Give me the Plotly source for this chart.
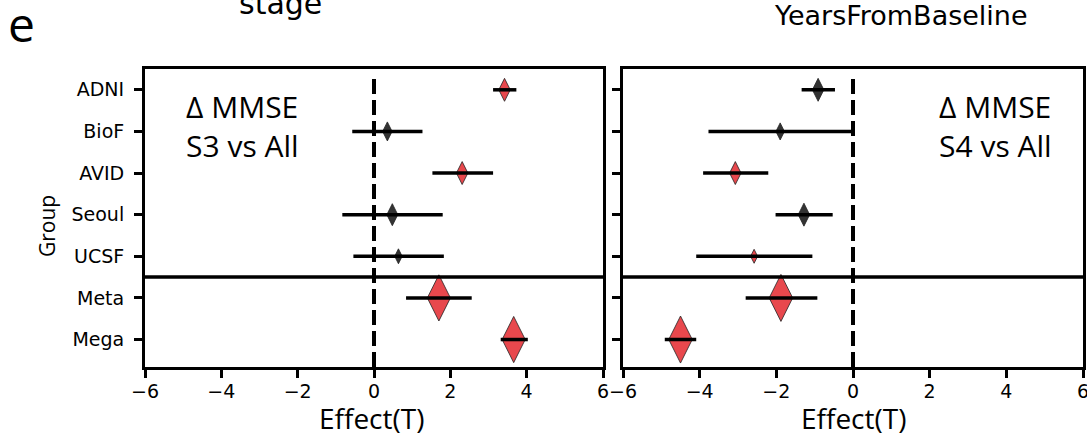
import plotly.graph_objects as go

W, H = 1087, 434

groups = ["ADNI", "BioF", "AVID", "Seoul", "UCSF", "Meta", "Mega"]

# Panel 1: stage (S3 vs All)
s3_effect = [3.42, 0.35, 2.31, 0.48, 0.64, 1.70, 3.66]
s3_lo = [3.12, -0.57, 1.53, -0.83, -0.54, 0.84, 3.32]
s3_hi = [3.73, 1.27, 3.12, 1.80, 1.83, 2.56, 4.03]
s3_sig = [True, False, True, False, False, True, True]
s3_weight = [16.4, 13.6, 16.4, 15.7, 10.7, 33.0, 33.0]

# Panel 2: YearsFromBaseline (S4 vs All)
s4_effect = [-0.91, -1.90, -3.07, -1.28, -2.58, -1.88, -4.50]
s4_lo = [-1.34, -3.77, -3.91, -2.02, -4.09, -2.80, -4.91]
s4_hi = [-0.47, 0.00, -2.21, -0.53, -1.06, -0.93, -4.09]
s4_sig = [False, False, True, False, True, True, True]
s4_weight = [16.4, 12.2, 16.4, 16.4, 10.0, 33.6, 33.6]

xticks = [-6, -4, -2, 0, 2, 4, 6]

RED = "#E8484D"
DARK = "#333333"
TICKFONT = dict(family="DejaVu Sans", size=19, color="black")
TEXTFONT = "Open Sans"


def px(x):
    return x / W


def py(y):
    return 1 - y / H


fig = go.Figure()

panels = [
    (s3_effect, s3_lo, s3_hi, s3_sig, s3_weight, "x", "y"),
    (s4_effect, s4_lo, s4_hi, s4_sig, s4_weight, "x2", "y2"),
]
ypos = list(range(len(groups)))

for eff, lo, hi, sig, wt, xa, ya in panels:
    fig.add_trace(go.Scatter(
        x=eff, y=ypos, mode="markers", xaxis=xa, yaxis=ya,
        marker=dict(symbol="diamond-tall", size=wt, opacity=1,
                    color=[RED if s else DARK for s in sig],
                    line=dict(color="#222222", width=0.8)),
        showlegend=False, hoverinfo="skip"))
    lx, ly = [], []
    for i in range(len(groups)):
        lx += [lo[i], hi[i], None]
        ly += [ypos[i], ypos[i], None]
    fig.add_trace(go.Scatter(
        x=lx, y=ly, mode="lines", xaxis=xa, yaxis=ya,
        line=dict(color="black", width=3.5),
        showlegend=False, hoverinfo="skip"))

xd1 = [px(145), px(603)]
xd2 = [px(623), px(1083)]
yd = [py(367), py(69)]
yrange = [6.66, -0.5]

axis_common = dict(showline=True, linewidth=3, linecolor="black", mirror=True,
                   ticks="outside", ticklen=8, tickwidth=3, tickcolor="black",
                   showgrid=False, zeroline=False, tickfont=TICKFONT, automargin=False,
                   ticklabeloverflow="allow")

fig.update_layout(
    template="none",
    width=W, height=H, margin=dict(l=0, r=0, t=0, b=0, pad=0), autosize=False,
    plot_bgcolor="white", paper_bgcolor="white",
    xaxis=dict(domain=xd1, range=[-6, 6], tickvals=xticks, anchor="y",
               ticklabelstandoff=-3, **axis_common),
    xaxis2=dict(domain=xd2, range=[-6, 6], tickvals=xticks, anchor="y2",
                ticklabelstandoff=-3, **axis_common),
    yaxis=dict(domain=yd, range=yrange, tickvals=ypos, ticktext=groups, anchor="x",
               ticklabelstandoff=6, **axis_common),
    yaxis2=dict(domain=yd, range=yrange, tickvals=ypos, ticktext=[""] * len(groups),
                anchor="x2", **axis_common),
)

# separators and zero lines
for xa, ya in [("x", "y"), ("x2", "y2")]:
    fig.add_shape(type="line", xref=f"{xa} domain", yref=ya, x0=0, x1=1, y0=4.5, y1=4.5,
                  line=dict(color="black", width=3.5), layer="above")
    fig.add_shape(type="line", xref=xa, yref=f"{ya} domain", x0=0, x1=0, y0=0, y1=0.975,
                  line=dict(color="black", width=4, dash="15px,6px"), layer="below")

ann = []
for txt, x0 in [("Δ MMSE<br>S3 vs All", 184), ("Δ MMSE<br>S4 vs All", 937)]:
    ann.append(dict(text=txt, x=px(x0), y=py(84), xref="paper", yref="paper",
                    xanchor="left", yanchor="top", align="left", showarrow=False,
                    font=dict(family=TEXTFONT, size=30, color="black")))
ann.append(dict(text="stage", x=px(280), y=py(3), xref="paper", yref="paper",
                xanchor="center", yanchor="middle", showarrow=False,
                font=dict(family="DejaVu Sans", size=30, color="black")))
ann.append(dict(text="YearsFromBaseline", x=px(901), y=py(16), xref="paper", yref="paper",
                xanchor="center", yanchor="middle", showarrow=False,
                font=dict(family="DejaVu Sans", size=27, color="black")))
ann.append(dict(text="e", x=px(21), y=py(24), xref="paper", yref="paper",
                xanchor="center", yanchor="middle", showarrow=False,
                font=dict(family=TEXTFONT, size=48, color="black")))
for cx in [371, 853]:
    ann.append(dict(text="Effect(T)", x=px(cx), y=py(418), xref="paper", yref="paper",
                    xanchor="center", yanchor="middle", showarrow=False,
                    font=dict(family=TEXTFONT, size=28, color="black")))
ann.append(dict(text="Group", x=px(47), y=py(226), xref="paper", yref="paper",
                xanchor="center", yanchor="middle", showarrow=False, textangle=-90,
                font=dict(family=TEXTFONT, size=21, color="black")))
fig.update_layout(annotations=ann)

fig.write_html("out.html", config={"displayModeBar": False},
               post_script="document.body.style.margin='0px';")
